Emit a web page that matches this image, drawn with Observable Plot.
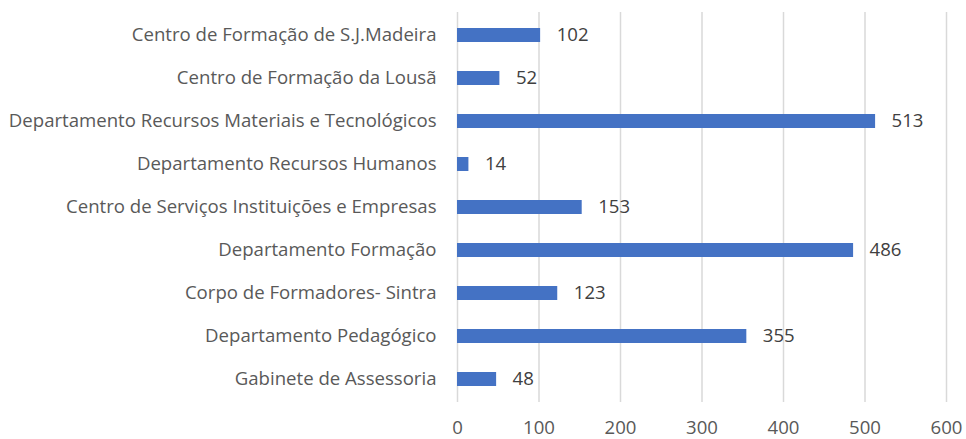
<!DOCTYPE html>
<html><head><meta charset="utf-8">
<script src="https://cdn.jsdelivr.net/npm/d3@7"></script>
<script src="https://cdn.jsdelivr.net/npm/@observablehq/plot@0.6"></script>
<style>
html,body{margin:0;padding:0;background:#fff;}
</style>
</head><body>
<div id="chart"></div>
<script>
const categories = [
  "Centro de Formação de S.J.Madeira",
  "Centro de Formação da Lousã",
  "Departamento Recursos Materiais e Tecnológicos",
  "Departamento Recursos Humanos",
  "Centro de Serviços Instituições e Empresas",
  "Departamento Formação",
  "Corpo de Formadores- Sintra",
  "Departamento Pedagógico",
  "Gabinete de Assessoria"
];
const values = [102, 52, 513, 14, 153, 486, 123, 355, 48];
const xTicks = [0, 100, 200, 300, 400, 500, 600];

const data = categories.map((c, i) => ({category: c, value: values[i]}));

const chart = Plot.plot({
  width: 966,
  height: 439,
  marginLeft: 457,
  marginRight: 20,
  marginTop: 12,
  marginBottom: 37,
  style: {fontFamily: "'Open Sans', sans-serif", fontSize: "18.6px", color: "#595959", background: "#fff"},
  x: {domain: [0, 600], ticks: xTicks, label: null, tickSize: 0, tickPadding: 18, grid: false},
  y: {domain: categories, label: null, paddingInner: 0.665, paddingOuter: 0.333, tickSize: 0, tickPadding: 21},
  marks: [
    Plot.ruleX(xTicks, {stroke: "#d9d9d9", strokeWidth: 1.5, strokeOpacity: 1}),
    Plot.barX(data, {x: "value", y: "category", fill: "#4472C4"}),
    Plot.text(data, {x: "value", y: "category", text: d => String(d.value), textAnchor: "start", dx: 16, fill: "#404040", fontSize: 18.6})
  ]
});
document.getElementById("chart").appendChild(chart);
</script>
</body></html>
